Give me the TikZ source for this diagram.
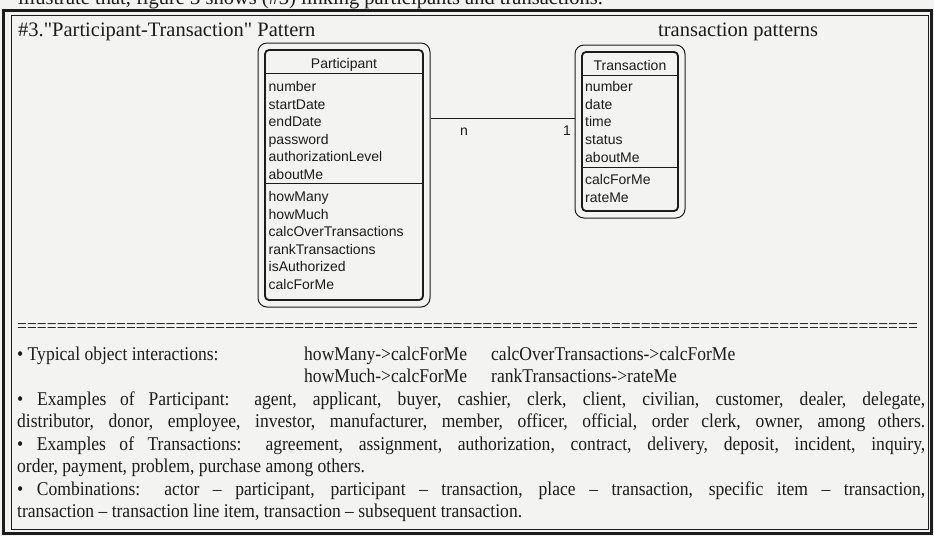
\documentclass[tikz,border=0pt]{standalone}
\usepackage{fontspec}
\setmainfont{Liberation Serif}
\newfontfamily\bodyfont{Liberation Serif}[FakeStretch=0.9]
\newfontfamily\headfont{Liberation Serif}
\newfontfamily\umlfont{Liberation Sans}
\definecolor{paper}{HTML}{F3F3F1}
\definecolor{ink}{HTML}{1C1C1C}
\tikzset{
  classouter/.style={draw=ink, line width=1pt, rounded corners=9pt, inner sep=0},
  classinner/.style={draw=ink, line width=1.8pt, rounded corners=4pt, inner sep=0},
  umltext/.style={font=\umlfont\fontsize{14}{14}\selectfont, text=ink, anchor=base west, inner sep=0},
  umlhead/.style={font=\umlfont\fontsize{14}{14}\selectfont, text=ink, anchor=base, inner sep=0},
  body/.style={font=\bodyfont\fontsize{19.5}{22}\selectfont, text=ink, anchor=base west, inner sep=0},
  headline/.style={font=\headfont\fontsize{20.5}{24}\selectfont, text=ink, anchor=base west, inner sep=0},
  rule/.style={draw=ink, line width=1pt},
}
\begin{document}
\begin{tikzpicture}[x=1pt, y=-1pt]
\useasboundingbox (0,0) rectangle (934,536);
\clip (0,0) rectangle (934,536);
\fill[paper] (0,0) rectangle (934,536);

% tail of the preceding paragraph, cut by the page edge
\node[headline] (prev) at (18,4.5)
  {illustrate that, figure 3 shows (\#3) linking participants and transactions.};

% frame: heavy outer box with a thinner inner rule
\draw[draw=ink, line width=2.4pt] (3.5,10.5) rectangle (931.5,533.5);
\draw[draw=ink, line width=1pt] (11,15.5) rectangle (928,529);

% headings
\node[headline] (title) at (18,36) {\#3."Participant-Transaction" Pattern};
\node[headline] (kind) at (658,36) {transaction patterns};

% Participant class
\node[classouter, minimum width=172pt, minimum height=264pt] (partOuter) at (344,175) {};
\node[classinner, minimum width=158pt, minimum height=250pt] (partInner) at (344,175) {};
\coordinate (pHead) at (0,73);
\coordinate (pDiv) at (0,183);
\draw[rule] (partInner.west |- pHead) -- (partInner.east |- pHead);
\draw[rule] (partInner.west |- pDiv) -- (partInner.east |- pDiv);
\node[umlhead] (pName) at (344,68) {Participant};
\node[umltext] (pA1) at (268.5,91.5) {number};
\node[umltext] (pA2) at (268.5,109) {startDate};
\node[umltext] (pA3) at (268.5,126.5) {endDate};
\node[umltext] (pA4) at (268.5,144) {password};
\node[umltext] (pA5) at (268.5,161.5) {authorizationLevel};
\node[umltext] (pA6) at (268.5,179) {aboutMe};
\node[umltext] (pO1) at (268.5,201.5) {howMany};
\node[umltext] (pO2) at (268.5,219) {howMuch};
\node[umltext] (pO3) at (268.5,236.5) {calcOverTransactions};
\node[umltext] (pO4) at (268.5,254) {rankTransactions};
\node[umltext] (pO5) at (268.5,271.5) {isAuthorized};
\node[umltext] (pO6) at (268.5,289) {calcForMe};

% Transaction class
\node[classouter, minimum width=110pt, minimum height=173pt] (transOuter) at (630,131.5) {};
\node[classinner, minimum width=96pt, minimum height=159pt] (transInner) at (630,131.5) {};
\coordinate (tHead) at (0,75);
\coordinate (tDiv) at (0,167);
\draw[rule] (transInner.west |- tHead) -- (transInner.east |- tHead);
\draw[rule] (transInner.west |- tDiv) -- (transInner.east |- tDiv);
\node[umlhead] (tName) at (630,70) {Transaction};
\node[umltext] (tA1) at (585,91.5) {number};
\node[umltext] (tA2) at (585,109) {date};
\node[umltext] (tA3) at (585,126.5) {time};
\node[umltext] (tA4) at (585,144) {status};
\node[umltext] (tA5) at (585,162) {aboutMe};
\node[umltext] (tO1) at (585,184.5) {calcForMe};
\node[umltext] (tO2) at (585,202) {rateMe};

% association with its multiplicities
\coordinate (linkY) at (0,118);
\draw[rule] (partOuter.east |- linkY) -- (transOuter.west |- linkY);
\node[umltext] (multN) at (460,135) {n};
\node[umltext] (multOne) at (563,135) {1};

% separator row
\node[body] (sep) at (17,332) {\makebox[908pt]{\leaders\hbox{=}\hfill}};

% notes under the separator
\node[body] (inter) at (17,360) {\textbullet\ Typical object interactions:};
\node[body] (i1) at (304,360) {howMany->calcForMe};
\node[body] (i2) at (491,360) {calcOverTransactions->calcForMe};
\node[body] (i3) at (304,382.5) {howMuch->calcForMe};
\node[body] (i4) at (491,382.5) {rankTransactions->rateMe};
\node[body] (exP1) at (17,405) {\makebox[908pt][s]{\textbullet\ Examples of Participant: agent, applicant, buyer, cashier, clerk, client, civilian, customer, dealer, delegate,}};
\node[body] (exP2) at (17,427.5) {\makebox[908pt][s]{distributor, donor, employee, investor, manufacturer, member, officer, official, order clerk, owner, among others.}};
\node[body] (exT1) at (17,450) {\makebox[908pt][s]{\textbullet\ Examples of Transactions: agreement, assignment, authorization, contract, delivery, deposit, incident, inquiry,}};
\node[body] (exT2) at (17,472.5) {order, payment, problem, purchase among others.};
\node[body] (comb1) at (17,495) {\makebox[908pt][s]{\textbullet\ Combinations: actor – participant, participant – transaction, place – transaction, specific item – transaction,}};
\node[body] (comb2) at (17,517.5) {transaction – transaction line item, transaction – subsequent transaction.};
\end{tikzpicture}
\end{document}
